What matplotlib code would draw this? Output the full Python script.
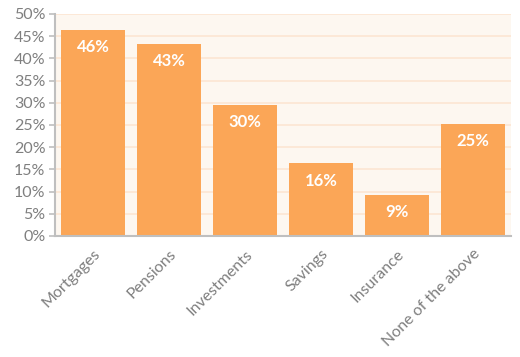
import matplotlib
matplotlib.use("Agg")
import matplotlib.pyplot as plt
from matplotlib.ticker import FuncFormatter

categories = ["Mortgages", "Pensions", "Investments", "Savings", "Insurance", "None of the above"]
values = [46.4, 43.2, 29.5, 16.4, 9.2, 25.2]
yticks = [0, 5, 10, 15, 20, 25, 30, 35, 40, 45, 50]

plt.rcParams['font.family'] = ['Lato', 'DejaVu Sans']

fig = plt.figure(figsize=(5.2, 3.57), dpi=100)
ax = fig.add_axes([0.106, 0.339, 0.877, 0.622])
ax.set_facecolor('#FDF7F0')

bars = ax.bar(range(len(categories)), values, width=0.84, color='#FBA657', zorder=3)
for i, v in enumerate(values):
    ax.annotate(f"{round(v)}%", (i, v), xytext=(0, -12.5), textcoords='offset points',
                ha='center', va='center', color='white', fontweight='bold', fontsize=12, zorder=4)

ax.set_xlim(-0.5, len(categories) - 0.5)
ax.set_ylim(0, 50)
ax.set_yticks(yticks)
ax.yaxis.set_major_formatter(FuncFormatter(lambda y, p: f"{int(y)}%"))
ax.grid(axis='y', color='#FCE6D2', linewidth=1.2, zorder=0)
ax.set_xticks(range(len(categories)))
ax.set_xticklabels(categories, rotation=45, ha='right', rotation_mode='anchor')
ax.tick_params(axis='x', length=0, pad=8, labelsize=11.5, labelcolor='#7F7F7F')
ax.tick_params(axis='y', length=4, color='#BFBFBF', width=1.2, labelsize=11.5, labelcolor='#7F7F7F', pad=3)
for s in ['top', 'right']:
    ax.spines[s].set_visible(False)
for s in ['left', 'bottom']:
    ax.spines[s].set_color('#BFBFBF')
    ax.spines[s].set_linewidth(1.5)
    ax.spines[s].set_zorder(5)

fig.savefig("out.png", dpi=100)
